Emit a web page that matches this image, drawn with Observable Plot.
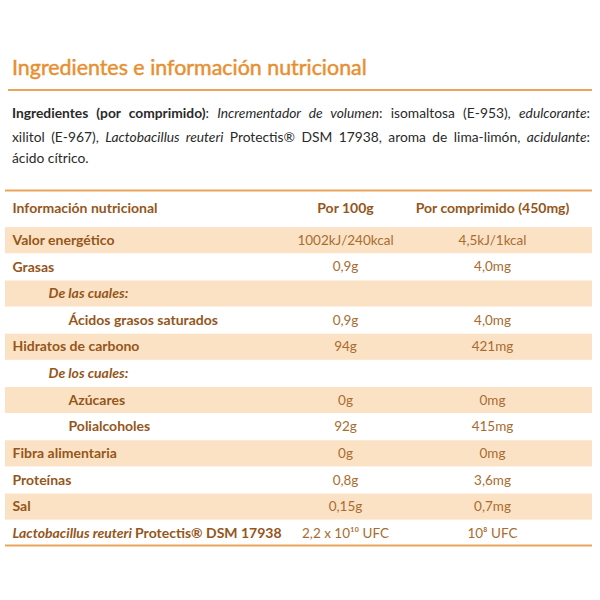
<!DOCTYPE html>
<html>
<head>
<meta charset="utf-8">
<script src="https://cdn.jsdelivr.net/npm/d3@7"></script>
<script src="https://cdn.jsdelivr.net/npm/@observablehq/plot@0.6"></script>
<style>
  body { margin: 0; background: #fff; font-family: Lato, "Open Sans", sans-serif; }
  #top { position: relative; width: 600px; height: 180px; }
  .title { position: absolute; left: 12px; top: 53px; font-size: 21.4px; line-height: 28px; color: #e88f30; white-space: nowrap; -webkit-text-stroke: 0.45px #e88f30; }
  .hr { position: absolute; left: 8px; width: 584px; top: 89px; border-top: 2px solid #eda55c; }
  .p { position: absolute; left: 12px; width: 578px; font-size: 13.8px; line-height: 20px; color: #2a2a2a; text-align: justify; }
  .p.j { text-align-last: justify; }
  .p b { font-weight: 700; }
  #chart { width: 600px; }
</style>
</head>
<body>
<div id="top">
  <div class="title">Ingredientes e información nutricional</div>
  <div class="hr"></div>
  <div class="p j" style="top:103px"><b>Ingredientes (por comprimido)</b>: <i>Incrementador de volumen</i>: isomaltosa (E-953), <i>edulcorante</i>:</div>
  <div class="p j" style="top:127px">xilitol (E-967), <i>Lactobacillus reuteri</i> Protectis® DSM 17938, aroma de lima-limón, <i>acidulante</i>:</div>
  <div class="p" style="top:148px">ácido cítrico.</div>
</div>
<div id="chart"></div>
<script>
// ---- data ----
const headers = ["Información nutricional", "Por 100g", "Por comprimido (450mg)"];
const labels = [
  "Valor energético", "Grasas", "De las cuales:", "Ácidos grasos saturados",
  "Hidratos de carbono", "De los cuales:", "Azúcares", "Polialcoholes",
  "Fibra alimentaria", "Proteínas", "Sal", "Lactobacillus reuteri Protectis® DSM 17938"
];
const levels = [0, 0, 1, 2, 0, 1, 2, 2, 0, 0, 0, 0];
const italicLabel = [false, false, true, false, false, true, false, false, false, false, false, false];
const per100g = ["1002kJ/240kcal", "0,9g", "", "0,9g", "94g", "", "0g", "92g", "0g", "0,8g", "0,15g", "2,2 x 10¹⁰ UFC"];
const perTablet = ["4,5kJ/1kcal", "4,0mg", "", "4,0mg", "421mg", "", "0mg", "415mg", "0mg", "3,6mg", "0,7mg", "10⁸ UFC"];

// ---- layout ----
const colLabel = 12, col100 = 345, colTab = 492;
const indent = [12, 48, 68];
const tableLeft = 5, tableRight = 592;

const rows = labels.map((label, i) => ({
  i: i + 1, label, level: levels[i], italic: italicLabel[i],
  v100: per100g[i], vTab: perTablet[i], band: i % 2 === 0
}));
const headRow = -0.2;
const headCols = [{ h: headers[1], x: col100 }, { h: headers[2], x: colTab }];

const textColor = "#a86c30";
const labelColor = "#94561b";
const bandColor = "#fce2c5";
const lineColor = "#eba35c";

const plot = Plot.plot({
  width: 600,
  height: 380,
  margin: 0,
  x: { type: "linear", domain: [0, 600], range: [0, 600], axis: null },
  y: { type: "linear", domain: [-0.5, 12.5], range: [20, 366.3], axis: null },
  style: { fontFamily: "Lato, 'Open Sans', sans-serif" },
  marks: [
    Plot.rect(rows.filter(d => d.band), {
      x1: tableLeft, x2: tableRight, y1: d => d.i - 0.5, y2: d => d.i + 0.5,
      fill: bandColor, insetTop: 0.5, insetBottom: 0
    }),
    Plot.ruleY([-0.875], { x1: tableLeft, x2: tableRight, stroke: lineColor, strokeWidth: 2 }),
    Plot.ruleY([12.45], { x1: tableLeft, x2: tableRight, stroke: lineColor, strokeWidth: 2 }),
    // header
    Plot.text([headers[0]], {
      x: colLabel, y: headRow, text: d => d, textAnchor: "start",
      fill: labelColor, fontSize: 14, fontWeight: 700
    }),
    Plot.text(headCols, {
      x: "x", y: headRow, text: "h", textAnchor: "middle",
      fill: labelColor, fontSize: 14, fontWeight: 700
    }),
    // row labels (upright)
    Plot.text(rows.filter(d => !d.italic), {
      x: d => indent[d.level], y: "i", text: "label", textAnchor: "start",
      fill: labelColor, fontSize: 14, fontWeight: 700
    }),
    // row labels (italic)
    Plot.text(rows.filter(d => d.italic), {
      x: d => indent[d.level], y: "i", text: "label", textAnchor: "start",
      fill: labelColor, fontSize: 14, fontWeight: 700, fontStyle: "italic"
    }),
    // values
    Plot.text(rows, { x: col100, y: "i", text: "v100", fill: textColor, fontSize: 13.5 }),
    Plot.text(rows, { x: colTab, y: "i", text: "vTab", fill: textColor, fontSize: 13.5 })
  ]
});

// Mixed italic/bold in the last label
plot.querySelectorAll("text").forEach(t => {
  const s = t.textContent;
  const prefix = "Lactobacillus reuteri ";
  if (s.startsWith(prefix)) {
    const rest = s.slice(prefix.length);
    while (t.firstChild) t.removeChild(t.firstChild);
    const ns = "http://www.w3.org/2000/svg";
    const a = document.createElementNS(ns, "tspan");
    a.setAttribute("font-style", "italic");
    a.textContent = prefix;
    const b = document.createElementNS(ns, "tspan");
    b.textContent = rest;
    t.appendChild(a); t.appendChild(b);
  }
});

document.getElementById("chart").appendChild(plot);
</script>
</body>
</html>
